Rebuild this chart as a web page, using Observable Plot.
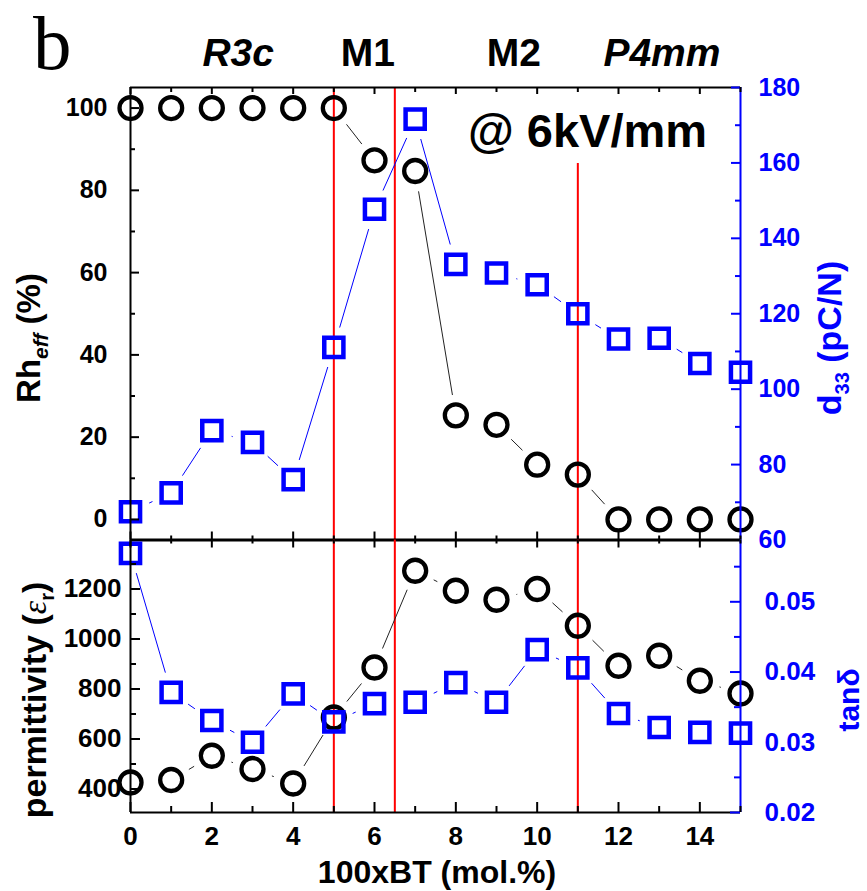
<!DOCTYPE html>
<html><head><meta charset="utf-8">
<script src="https://cdn.jsdelivr.net/npm/d3@7"></script>
<script src="https://cdn.jsdelivr.net/npm/@observablehq/plot@0.6"></script>
<style>
html,body{margin:0;padding:0;background:#fff;}
#chart{position:relative;width:867px;height:891px;overflow:hidden;background:#fff;}
#chart svg{position:absolute;left:0;top:0;}
</style></head><body><div id="chart"></div>
<script>
// ---- data ----
const composition = [0,1,2,3,4,5,6,7,8,9,10,11,12,13,14,15];
const rhEff = [100,100,100,100,100,100,87.3,84.7,25.3,23.0,13.3,10.9,0,0,0,0];
const d33 = [67.5,72.5,89,85.9,76,111.1,147.7,171.6,133.1,130.8,127.7,120,113.3,113.5,106.8,104.5];
const permittivity = [426,436,533,480,422,686,886,1273,1193,1157,1200,1053,893,933,833,782];
const tanDelta = [0.0569,0.0371,0.0331,0.0300,0.0369,0.0329,0.0355,0.0357,0.0385,0.0357,0.0432,0.0406,0.0341,0.0321,0.0314,0.0313];
const phaseBoundaries = [5, 6.5, 11];
const phaseLabels = ["R3c","M1","M2","P4mm"];
const phaseCenters = [2.66, 5.85, 9.44, 13.08];
const rhTicks = [0,20,40,60,80,100];
const rhMinor = [10,30,50,70,90];
const d33Ticks = [60,80,100,120,140,160,180];
const d33Minor = [70,90,110,130,150,170];
const permTicks = [400,600,800,1000,1200];
const permMinor = [500,700,900,1100,1300];
const tanTicks = [0.02,0.03,0.04,0.05];
const tanMinor = [0.025,0.035,0.045,0.055];
const xMajor = [0,2,4,6,8,10,12,14];
const xMinor = [1,3,5,7,9,11,13,15];
const fieldLabel = "@ 6kV/mm";

// ---- layout ----
const W = 867, H = 891;
const L = 130, R = 740, T1 = 87, B1 = 539.5, B2 = 812;
const fw = R - L, fh1 = B1 - T1, fh2 = B2 - B1;
const BLUE = "#0000ff", RED = "#ff0000";
const FONT = "'Liberation Sans', Arial, sans-serif";

const xDomain = [0, 15];
const rhDomain = [-5, 105], d33Domain = [60, 180];
const permDomain = [306, 1396], tanDomain = [0.02, 0.0588];
const lin = (a, b) => v => b[0] + (v - a[0]) / (a[1] - a[0]) * (b[1] - b[0]);
const d33ToRh = lin(d33Domain, rhDomain), rhToD33 = lin(rhDomain, d33Domain);
const tanToPerm = lin(tanDomain, permDomain), permToTan = lin(permDomain, tanDomain);
const rule11Top = 86.5; // Rh value where the x=11 rule begins (below the field label)

const segs = (xs, ys) => xs.slice(1).map((x2, i) => ({x1: xs[i], y1: ys[i], x2, y2: ys[i + 1]}));
const gapLine = (xs, ys, stroke) => Plot.arrow(segs(xs, ys), {
  x1: "x1", y1: "y1", x2: "x2", y2: "y2", bend: 0, headLength: 0,
  insetStart: 21, insetEnd: 21, stroke, strokeWidth: 1
});
const circles = (xs, ys) => Plot.dot(xs.map((x, i) => ({x, y: ys[i]})), {x: "x", y: "y", r: 11, stroke: "black", strokeWidth: 4.3, fill: "none"});
const squares = (xs, ys) => Plot.dot(xs.map((x, i) => ({x, y: ys[i]})), {x: "x", y: "y", symbol: "square", r: 10.8, stroke: BLUE, strokeWidth: 4.5, fill: "none"});

const d33OnRh = d33.map(d33ToRh);
const tanOnPerm = tanDelta.map(tanToPerm);

// ---- top panel ----
const topPlot = Plot.plot({
  width: W, height: H,
  marginLeft: L, marginRight: W - R, marginTop: T1, marginBottom: H - B1,
  x: {domain: xDomain, axis: null},
  y: {domain: rhDomain},
  style: {background: "transparent", fontFamily: FONT, fontWeight: "bold"},
  marks: [
    Plot.ruleX(phaseBoundaries.slice(0, 2), {stroke: RED, strokeWidth: 2}),
    Plot.ruleX(phaseBoundaries.slice(2), {x: d => d, y1: rule11Top, y2: rhDomain[0], stroke: RED, strokeWidth: 2}),
    gapLine(composition, rhEff, "#222"),
    gapLine(composition, d33OnRh, BLUE),
    circles(composition, rhEff),
    squares(composition, d33OnRh),
    // frame
    Plot.ruleY([rhDomain[1]], {stroke: "black", strokeWidth: 2}),
    Plot.ruleX([xDomain[0]], {stroke: "black", strokeWidth: 2}),
    Plot.ruleX([xDomain[1]], {stroke: BLUE, strokeWidth: 2}),
    // ticks (inward)
    Plot.tickY(rhTicks, {insetRight: fw - 9, stroke: "black", strokeWidth: 2}),
    Plot.tickY(rhMinor, {insetRight: fw - 5, stroke: "black", strokeWidth: 2}),
    Plot.tickY(d33Ticks.map(d33ToRh), {insetLeft: fw - 9, stroke: BLUE, strokeWidth: 2}),
    Plot.tickY(d33Minor.map(d33ToRh), {insetLeft: fw - 5, stroke: BLUE, strokeWidth: 2}),
    Plot.tickX(xMajor, {insetBottom: fh1 - 7, stroke: "black", strokeWidth: 2}),
    Plot.tickX(xMinor, {insetBottom: fh1 - 5, stroke: "black", strokeWidth: 2}),
    Plot.tickX(xMajor, {insetTop: fh1 - 8, stroke: "black", strokeWidth: 2}),
    Plot.tickX(xMinor, {insetTop: fh1 - 4, stroke: "black", strokeWidth: 2}),
    Plot.ruleY([rhDomain[0]], {stroke: "black", strokeWidth: 3}),
    // tick labels
    Plot.axisY(rhTicks, {anchor: "left", tickSize: 0, tickPadding: 23, fontSize: 25, label: null,
      tickFormat: d => String(d)}),
    Plot.axisY(d33Ticks.map(d33ToRh), {anchor: "right", tickSize: 0, tickPadding: 18, fontSize: 25, label: null,
      color: BLUE, tickFormat: v => String(Math.round(rhToD33(v)))})
  ]
});

// ---- bottom panel ----
const botPlot = Plot.plot({
  width: W, height: H,
  marginLeft: L, marginRight: W - R, marginTop: B1, marginBottom: H - B2,
  x: {domain: xDomain},
  y: {domain: permDomain},
  style: {background: "transparent", fontFamily: FONT, fontWeight: "bold"},
  marks: [
    Plot.ruleX(phaseBoundaries, {stroke: RED, strokeWidth: 2}),
    gapLine(composition, permittivity, "#222"),
    gapLine(composition, tanOnPerm, BLUE),
    circles(composition, permittivity),
    squares(composition, tanOnPerm),
    Plot.ruleX([xDomain[0]], {stroke: "black", strokeWidth: 2}),
    Plot.ruleX([xDomain[1]], {stroke: BLUE, strokeWidth: 2}),
    Plot.ruleY([permDomain[0]], {stroke: "black", strokeWidth: 2}),
    Plot.tickY(permTicks, {insetRight: fw - 10, stroke: "black", strokeWidth: 2}),
    Plot.tickY(permMinor, {insetRight: fw - 6, stroke: "black", strokeWidth: 2}),
    Plot.tickY(tanTicks.map(tanToPerm), {insetLeft: fw - 10, stroke: BLUE, strokeWidth: 2}),
    Plot.tickY(tanMinor.map(tanToPerm), {insetLeft: fw - 6, stroke: BLUE, strokeWidth: 2}),
    Plot.tickX(xMajor, {insetBottom: fh2 - 8, stroke: "black", strokeWidth: 2}),
    Plot.tickX(xMinor, {insetBottom: fh2 - 4, stroke: "black", strokeWidth: 2}),
    Plot.tickX(xMajor, {insetTop: fh2 - 10, stroke: "black", strokeWidth: 2}),
    Plot.tickX(xMinor, {insetTop: fh2 - 6, stroke: "black", strokeWidth: 2}),
    Plot.axisY(permTicks, {anchor: "left", tickSize: 0, tickPadding: 9, fontSize: 26, label: null,
      tickFormat: d => String(d)}),
    Plot.axisY(tanTicks.map(tanToPerm), {anchor: "right", tickSize: 0, tickPadding: 24, fontSize: 26, label: null,
      color: BLUE, tickFormat: v => permToTan(v).toFixed(2)}),
    Plot.axisX(xMajor, {anchor: "bottom", tickSize: 0, tickPadding: 14, fontSize: 26, label: null,
      tickFormat: d => String(d)})
  ]
});

const chart = document.getElementById("chart");
chart.appendChild(topPlot);
chart.appendChild(botPlot);

// ---- annotations ----
const xs = topPlot.scale("x"), ysTop = topPlot.scale("y");
const ov = d3.select(chart).append("svg").attr("width", W).attr("height", H)
  .style("font-family", FONT).style("font-weight", "bold");

ov.append("text").attr("x", 33).attr("y", 69)
  .style("font-family", "'Liberation Serif', 'Times New Roman', serif").style("font-weight", "normal")
  .attr("font-size", 77).text("b");

phaseLabels.forEach((t, i) => {
  ov.append("text").attr("x", xs.apply(phaseCenters[i])).attr("y", 66)
    .attr("text-anchor", "middle").attr("font-size", 39)
    .style("font-style", (t === "R3c" || t === "P4mm") ? "italic" : "normal").text(t);
});

ov.append("text").attr("x", xs.apply(8.31)).attr("y", ysTop.apply(90.4))
  .attr("font-size", 47).text(fieldLabel);

function rotLabel(x, y, size, color, parts) {
  const t = ov.append("text").attr("transform", `translate(${x},${y}) rotate(-90)`)
    .attr("text-anchor", "middle").attr("font-size", size).attr("fill", color);
  parts.forEach(p => {
    const s = t.append("tspan").text(p.t);
    if (p.size) s.attr("font-size", p.size);
    if (p.dy) s.attr("dy", p.dy);
    if (p.italic) s.style("font-style", "italic");
    if (p.font) s.style("font-family", p.font).style("font-weight", "normal");
  });
}
rotLabel(40, 338, 33, "black", [{t: "Rh"}, {t: "eff", size: 21, dy: 8, italic: true}, {t: " (%)", dy: -8}]);
rotLabel(841, 338, 34, BLUE, [{t: "d"}, {t: "33", size: 20, dy: 8}, {t: " (pC/N)", dy: -8}]);
rotLabel(46, 700, 34, "black", [{t: "permittivity ("}, {t: "ε", italic: true, font: "'Liberation Serif', serif"}, {t: "r", size: 20, dy: 8}, {t: ")", dy: -8}]);
rotLabel(859, 700, 30, BLUE, [{t: "tanδ"}]);

ov.append("text").attr("x", 437).attr("y", 883).attr("text-anchor", "middle")
  .attr("font-size", 32).text("100xBT (mol.%)");
</script></body></html>
